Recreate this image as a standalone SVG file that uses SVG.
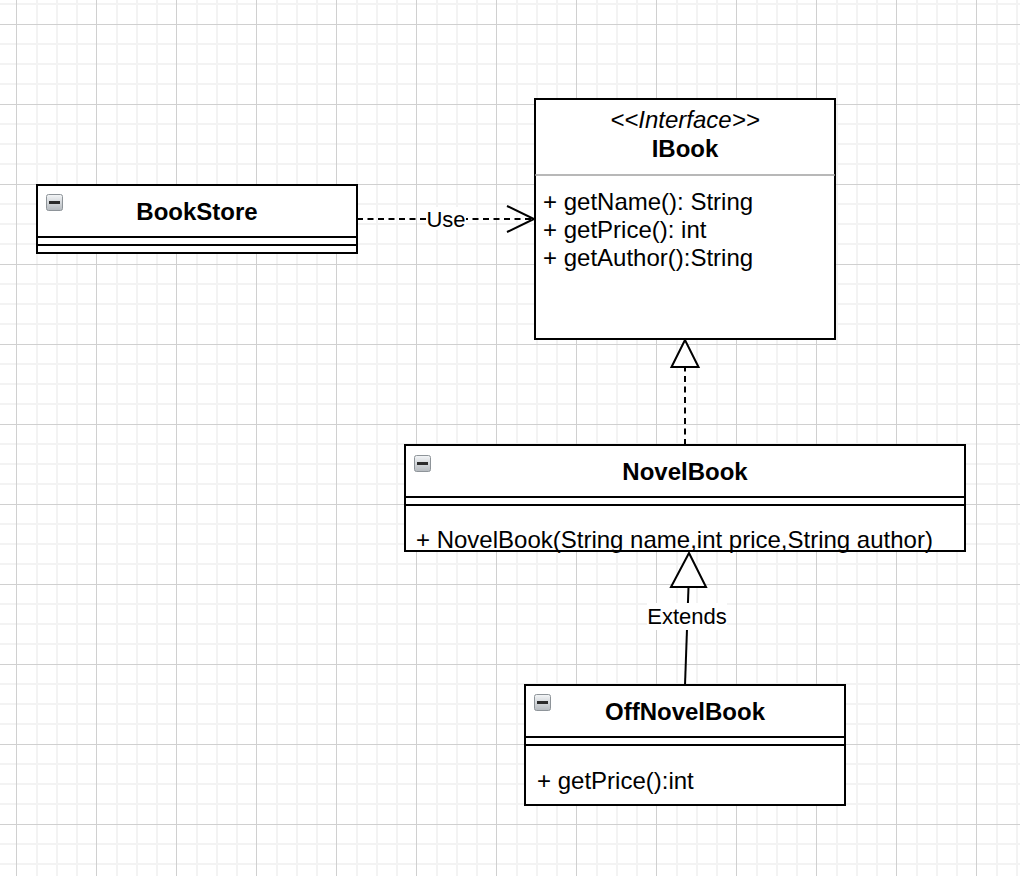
<svg xmlns="http://www.w3.org/2000/svg" width="1020" height="876" viewBox="0 0 1020 876">
<style>
  .box { fill: #ffffff; stroke: #000000; stroke-width: 2; }
  .div { stroke: #000000; stroke-width: 2; }
  .title { font-family: "Liberation Sans", Arial, sans-serif; font-size: 24px; font-weight: bold; fill: #000; text-anchor: middle; }
  .member { font-family: "Liberation Sans", Arial, sans-serif; font-size: 24px; fill: #000; }
  .stereo { font-family: "Liberation Sans", Arial, sans-serif; font-size: 24px; font-style: italic; fill: #000; text-anchor: middle; }
  .elabel { font-family: "Liberation Sans", Arial, sans-serif; font-size: 22px; fill: #000; text-anchor: middle; }
  .edge { fill: none; stroke: #000000; stroke-width: 2; }
  .dashed { stroke-dasharray: 6 4.5; }
  .head { fill: #ffffff; stroke: #000000; stroke-width: 2; stroke-linejoin: miter; }
</style>
<defs>
  <pattern id="grid" patternUnits="userSpaceOnUse" x="16" y="24" width="80" height="80">
    <rect width="80" height="80" fill="#ffffff"/>
    <path d="M21 0V80M41 0V80M61 0V80M0 20H80M0 40H80M0 60H80" stroke="#f3f3f3" stroke-width="2" fill="none"/>
    <path d="M0.5 0V80M0 0.5H80" stroke="#d0d0d0" stroke-width="1" fill="none"/>
  </pattern>
  <linearGradient id="iconGrad" x1="0" y1="0" x2="0" y2="1">
    <stop offset="0" stop-color="#f4f6f8"/>
    <stop offset="1" stop-color="#b4b9be"/>
  </linearGradient>
  <g id="minusIcon">
    <rect x="0.5" y="0.5" width="16" height="16" rx="2" fill="url(#iconGrad)" stroke="#8e9499" stroke-width="1"/>
    <rect x="3" y="7" width="11" height="3" fill="#2b2b2b"/>
  </g>
</defs>
<rect width="1020" height="876" fill="url(#grid)"/>

<g id="connectors">
  <!-- Use dependency -->
  <path class="edge dashed" d="M357 219H533"/>
  <path class="edge" d="M507 206L534 219L507 232"/>
  <rect x="426" y="207" width="40" height="23" fill="#ffffff"/>
  <text class="elabel" x="446" y="227">Use</text>
  <!-- Realization NovelBook -> IBook -->
  <path class="edge dashed" d="M685 445V367"/>
  <path class="head" d="M685 340L671.5 367H698.5Z"/>
  <!-- Generalization OffNovelBook -> NovelBook -->
  <path class="edge" d="M685 685L688.5 587"/>
  <path class="head" d="M689 553L671 587H706Z"/>
  <rect x="647" y="603" width="80" height="27" fill="#ffffff"/>
  <text class="elabel" x="687" y="624">Extends</text>
</g>

<g id="BookStore">
  <rect class="box" x="37" y="185" width="320" height="68"/>
  <path class="div" d="M37 237H357M37 245H357"/>
  <use href="#minusIcon" x="46" y="194"/>
  <text class="title" x="197" y="220">BookStore</text>
</g>

<g id="IBook">
  <rect class="box" x="535" y="99" width="300" height="240"/>
  <path d="M535 175H835" stroke="#a0a0a0" stroke-width="1.5"/>
  <text class="stereo" x="685" y="128">&lt;&lt;Interface&gt;&gt;</text>
  <text class="title" x="685" y="157">IBook</text>
  <text class="member" x="543" y="210">+ getName(): String</text>
  <text class="member" x="543" y="238">+ getPrice(): int</text>
  <text class="member" x="543" y="266">+ getAuthor():String</text>
</g>

<g id="NovelBook">
  <rect class="box" x="405" y="445" width="560" height="106"/>
  <path class="div" d="M405 497H965M405 505H965"/>
  <use href="#minusIcon" x="414" y="455"/>
  <text class="title" x="685" y="480">NovelBook</text>
  <text class="member" x="416" y="548">+ NovelBook(String name,int price,String author)</text>
</g>

<g id="OffNovelBook">
  <rect class="box" x="525" y="685" width="320" height="120"/>
  <path class="div" d="M525 737H845M525 745H845"/>
  <use href="#minusIcon" x="534" y="694"/>
  <text class="title" x="685" y="720">OffNovelBook</text>
  <text class="member" x="537" y="789">+ getPrice():int</text>
</g>
</svg>
